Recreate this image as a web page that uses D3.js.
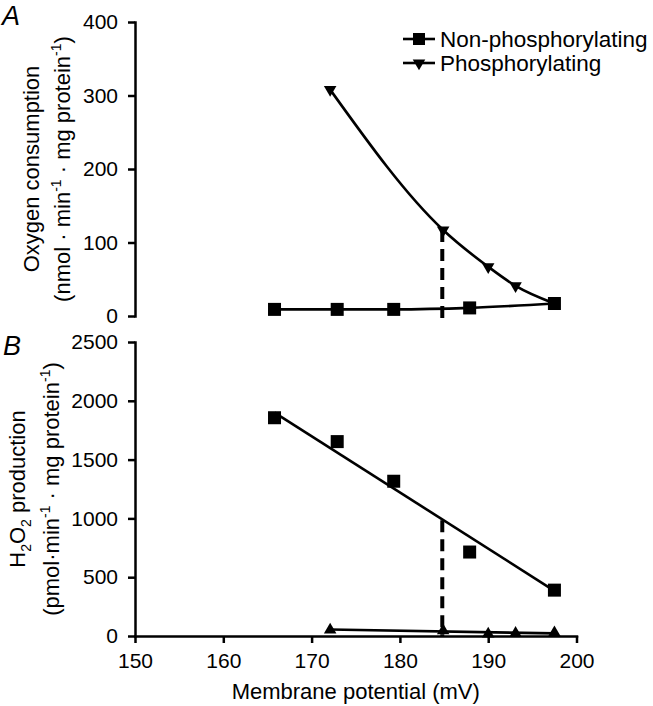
<!DOCTYPE html>
<html>
<head>
<meta charset="utf-8">
<script src="https://cdn.jsdelivr.net/npm/d3@7"></script>
<style>
  body { margin: 0; background: #fff; }
  svg { display: block; font-family: "Liberation Sans", Arial, Helvetica, sans-serif; }
  .axis path, .axis line { stroke: #000; stroke-width: 2.5px; }
  .axis text { font-size: 21px; fill: #000; font-family: "Liberation Sans", Arial, sans-serif; }
</style>
</head>
<body>
<svg id="chart" width="653" height="706"></svg>
<script>
// potentials (mV)
const nonPhosX = [165.8, 172.9, 179.3, 187.9, 197.5]
const phosX = [172.1, 184.9, 190.0, 193.1, 197.5]

// panel A: oxygen consumption
const oxNonPhos = [9, 9, 9, 11, 17]
const oxPhos = [308, 117, 67, 41, 17]

// panel B: H2O2 production
const h2o2NonPhos = [1856, 1653, 1316, 714, 390]
const h2o2Phos = [51, 45, 17, 23, 28]
const h2o2NonPhosFit = [[165.8, 1900], [197.5, 384]]
const h2o2PhosFit = [[172.1, 55], [197.5, 22]]

// dashed marker at state 3 potential
const state3X = 184.8
const state3A = [117, -4]
const state3B = [985, 0]

const xTicks = [150, 160, 170, 180, 190, 200]
const yTicksA = [0, 100, 200, 300, 400]
const yTicksB = [0, 500, 1000, 1500, 2000, 2500]
const legendLabels = ["Non-phosphorylating", "Phosphorylating"]

const svg = d3.select("#chart")

const x = d3.scaleLinear().domain([150, 200]).range([135, 576.5])
const yA = d3.scaleLinear().domain([0, 400]).range([316, 22])
const yB = d3.scaleLinear().domain([0, 2500]).range([636, 342])

svg.append("g")
    .attr("class", "axis")
    .attr("transform", "translate(135,0)")
    .call(d3.axisLeft(yA).tickValues(yTicksA).tickFormat(d3.format("d")).tickSize(7).tickSizeOuter(0).tickPadding(10))

svg.append("g")
    .attr("class", "axis")
    .attr("transform", "translate(135,0)")
    .call(d3.axisLeft(yB).tickValues(yTicksB).tickFormat(d3.format("d")).tickSize(7).tickSizeOuter(0).tickPadding(10))

svg.append("g")
    .attr("class", "axis")
    .attr("transform", "translate(0,636)")
    .call(d3.axisBottom(x).tickValues(xTicks).tickFormat(d3.format("d")).tickSize(7).tickSizeOuter(0).tickPadding(10))

svg.selectAll(".axis .domain").attr("stroke-linecap", "square")

function pts(xs, ys) {
    return xs.map((d, i) => [d, ys[i]])
}

function drawLine(data, yScale, curve) {
    svg.append("path")
        .datum(data)
        .attr("fill", "none")
        .attr("stroke", "#000")
        .attr("stroke-width", 2.6)
        .attr("d", d3.line().x(d => x(d[0])).y(d => yScale(d[1])).curve(curve || d3.curveLinear))
}

function drawSquares(data, yScale) {
    svg.append("g").selectAll("rect")
        .data(data)
        .enter()
        .append("rect")
        .attr("x", d => x(d[0]) - 6.5)
        .attr("y", d => yScale(d[1]) - 6.5)
        .attr("width", 13)
        .attr("height", 13)
        .attr("fill", "#000")
}

function drawTriangles(data, yScale, down) {
    svg.append("g").selectAll("path")
        .data(data)
        .enter()
        .append("path")
        .attr("d", d3.symbol().type(d3.symbolTriangle).size(68))
        .attr("transform", d => "translate(" + x(d[0]) + "," + yScale(d[1]) + ")" + (down ? " rotate(180)" : ""))
        .attr("fill", "#000")
}

function drawDashed(vals, yScale) {
    svg.append("line")
        .attr("x1", x(state3X)).attr("x2", x(state3X))
        .attr("y1", yScale(vals[0])).attr("y2", yScale(vals[1]))
        .attr("stroke", "#000")
        .attr("stroke-width", 4)
        .attr("stroke-dasharray", "12,7")
}

// panel A
drawDashed(state3A, yA)
drawLine(pts(phosX, oxPhos), yA, d3.curveMonotoneX)
drawLine(pts(nonPhosX, oxNonPhos), yA, d3.curveMonotoneX)
drawTriangles(pts(phosX, oxPhos).slice(0, 4), yA, true)
drawSquares(pts(nonPhosX, oxNonPhos), yA)

// panel B
drawDashed(state3B, yB)
drawLine(h2o2NonPhosFit, yB)
drawLine(h2o2PhosFit, yB)
drawSquares(pts(nonPhosX, h2o2NonPhos), yB)
drawTriangles(pts(phosX, h2o2Phos), yB, false)

// legend
const leg = svg.append("g").attr("transform", "translate(403,39)")
legendLabels.forEach((lab, i) => {
    const g = leg.append("g").attr("transform", "translate(0," + (i * 24) + ")")
    g.append("line").attr("x1", 0).attr("x2", 32).attr("y1", 0).attr("y2", 0)
        .attr("stroke", "#000").attr("stroke-width", 2.6)
    if (i == 0) {
        g.append("rect").attr("x", 10).attr("y", -6).attr("width", 12).attr("height", 12).attr("fill", "#000")
    } else {
        g.append("path").attr("d", d3.symbol().type(d3.symbolTriangle).size(68))
            .attr("transform", "translate(16,0) rotate(180)").attr("fill", "#000")
    }
    g.append("text").attr("x", 37).attr("y", 8).attr("font-size", 22.5).text(lab)
})

// panel letters
svg.append("text").attr("x", 2).attr("y", 25).attr("font-size", 27).attr("font-style", "italic").text("A")
svg.append("text").attr("x", 3).attr("y", 355).attr("font-size", 27).attr("font-style", "italic").text("B")

// axis titles
const tA = svg.append("g").attr("transform", "translate(39,169) rotate(-90)")
tA.append("text").attr("text-anchor", "middle").attr("font-size", 22).text("Oxygen consumption")
const tA2 = svg.append("g").attr("transform", "translate(70,169) rotate(-90)")
    .append("text").attr("text-anchor", "middle").attr("font-size", 22)
tA2.append("tspan").text("(nmol · min")
tA2.append("tspan").attr("dy", -9).attr("font-size", 14).text("-1")
tA2.append("tspan").attr("dy", 9).text(" · mg protein")
tA2.append("tspan").attr("dy", -9).attr("font-size", 14).text("-1")
tA2.append("tspan").attr("dy", 9).text(")")

const tB = svg.append("g").attr("transform", "translate(25,489) rotate(-90)")
    .append("text").attr("text-anchor", "middle").attr("font-size", 22)
tB.append("tspan").text("H")
tB.append("tspan").attr("dy", 6).attr("font-size", 14).text("2")
tB.append("tspan").attr("dy", -6).text("O")
tB.append("tspan").attr("dy", 6).attr("font-size", 14).text("2")
tB.append("tspan").attr("dy", -6).text(" production")
const tB2 = svg.append("g").attr("transform", "translate(59,489) rotate(-90)")
    .append("text").attr("text-anchor", "middle").attr("font-size", 22)
tB2.append("tspan").text("(pmol·min")
tB2.append("tspan").attr("dy", -9).attr("font-size", 14).text("-1")
tB2.append("tspan").attr("dy", 9).text(" · mg protein")
tB2.append("tspan").attr("dy", -9).attr("font-size", 14).text("-1")
tB2.append("tspan").attr("dy", 9).text(")")

svg.append("text")
    .attr("x", (x(150) + x(200)) / 2)
    .attr("y", 699)
    .attr("text-anchor", "middle")
    .attr("font-size", 22)
    .text("Membrane potential (mV)")
</script>
</body>
</html>
